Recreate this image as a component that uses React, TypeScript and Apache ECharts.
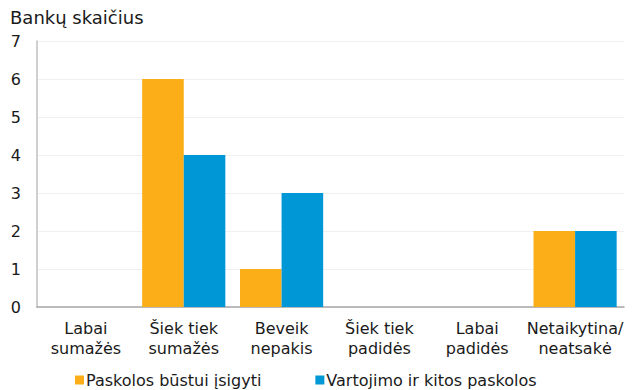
import React, { useEffect, useRef } from "react";
import * as echarts from "echarts";

const categories = [
  "Labai\nsumažės",
  "Šiek tiek\nsumažės",
  "Beveik\nnepakis",
  "Šiek tiek\npadidės",
  "Labai\npadidės",
  "Netaikytina/\nneatsakė",
];
const housingLoans = [0, 6, 1, 0, 0, 2];
const consumerLoans = [0, 4, 3, 0, 0, 2];
const seriesNames = ["Paskolos būstui įsigyti", "Vartojimo ir kitos paskolos"];
const FONT = "DejaVu Sans, Verdana, sans-serif";

export default function App() {
  const ref = useRef<HTMLDivElement>(null);
  useEffect(() => {
    if (!ref.current) return;
    const chart = echarts.init(ref.current, undefined, { renderer: "svg" });
    chart.setOption({
      animation: false,
      textStyle: { fontFamily: FONT },
      title: {
        text: "Bankų skaičius",
        left: 5,
        top: 3,
        textStyle: { fontFamily: FONT, fontSize: 18, fontWeight: "normal", color: "#1a1a1a" },
      },
      grid: { left: 37, right: 11, top: 41, bottom: 83 },
      legend: {
        top: 370,
        left: 70,
        padding: [2, 5, 2, 5],
        itemWidth: 9,
        itemHeight: 9,
        itemGap: 54,
        icon: "rect",
        textStyle: { fontFamily: FONT, fontSize: 16, color: "#1a1a1a", padding: [0, 0, 0, -3] },
        data: seriesNames,
      },
      xAxis: {
        type: "category",
        data: categories,
        axisLine: { lineStyle: { color: "#a6a6a6", width: 1.5 } },
        axisTick: { show: false },
        axisLabel: {
          fontFamily: FONT,
          fontSize: 16,
          color: "#1a1a1a",
          lineHeight: 20,
          margin: 11,
          interval: 0,
        },
      },
      yAxis: {
        type: "value",
        min: 0,
        max: 7,
        interval: 1,
        axisLine: { show: true, lineStyle: { color: "#bfbfbf", width: 1.5 } },
        axisTick: { show: false },
        splitLine: { lineStyle: { color: "#f0f0f0", width: 1 } },
        axisLabel: { fontFamily: FONT, fontSize: 16, color: "#1a1a1a", margin: 16 },
      },
      series: [
        {
          name: seriesNames[0],
          type: "bar",
          data: housingLoans,
          itemStyle: { color: "#fbae17" },
          barGap: "0%",
          barCategoryGap: "15%",
        },
        {
          name: seriesNames[1],
          type: "bar",
          data: consumerLoans,
          itemStyle: { color: "#0097d6" },
          barGap: "0%",
          barCategoryGap: "15%",
        },
      ],
    });
    return () => chart.dispose();
  }, []);
  return (
    <div
      ref={ref}
      style={{ position: "fixed", left: 0, top: 0, width: 635, height: 390, background: "#fff" }}
    />
  );
}
